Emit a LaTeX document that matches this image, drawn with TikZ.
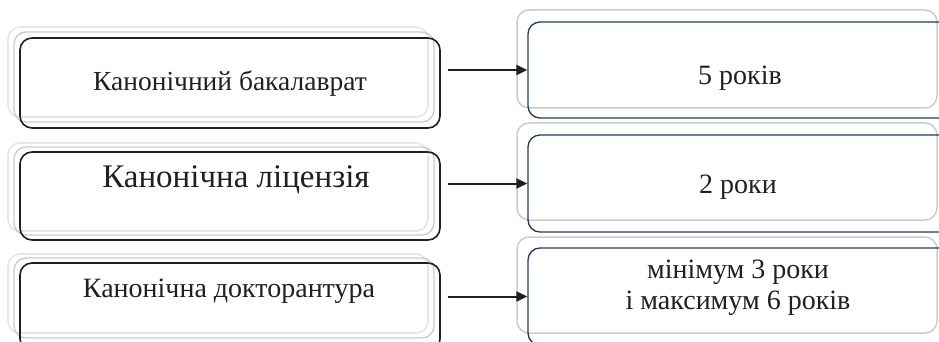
\documentclass[tikz,border=0pt]{standalone}
\usepackage{fontspec}
\setmainfont{Liberation Serif}
\usetikzlibrary{arrows.meta}
\definecolor{navy}{HTML}{1F3A62}
\definecolor{shadelight}{HTML}{E6E6E6}
\definecolor{shademid}{HTML}{CCCCCC}
\definecolor{ink}{HTML}{231F20}
\tikzset{
  lbox/.style={draw=ink, line width=1.6pt, rounded corners=12pt, minimum width=420pt, inner sep=0pt},
  rbox/.style={draw=navy, line width=1.3pt, rounded corners=12pt, minimum width=424pt, inner sep=0pt},
  shA/.style={draw=shadelight, line width=1.6pt, rounded corners=12pt},
  shB/.style={draw=shademid, line width=1.4pt, rounded corners=12pt},
  rsh/.style={draw=shademid, line width=1.5pt, rounded corners=12pt},
  txt/.style={text=ink, inner sep=0pt},
  arr/.style={draw=ink, line width=2pt, -{Triangle[length=11pt,width=10pt]}, shorten <=7pt}
}
\begin{document}
\begin{tikzpicture}[x=1pt,y=-1pt]
\useasboundingbox (0,0) rectangle (939,342);
\clip (0,0) rectangle (939,342);
% left shadows
\draw[shA] (8,27) rectangle (428,117);
\draw[shB] (14,32) rectangle (434,122);
\draw[shA] (8,143) rectangle (428,231);
\draw[shB] (14,147) rectangle (434,235);
\draw[shA] (8,254) rectangle (428,333);
\draw[shB] (14,258) rectangle (434,338);
% left boxes
\node[lbox, minimum height=90pt] (L1) at (230,83) {};
\node[lbox, minimum height=88pt] (L2) at (230,196) {};
\node[lbox, minimum height=88pt] (L3) at (230,307) {};
% right shadows
\draw[rsh] (517,10) rectangle (937,108);
\draw[rsh] (517,123) rectangle (937,220);
\draw[rsh] (517,237) rectangle (937,333);
% right boxes
\node[rbox, minimum height=96pt] (R1) at (740,70) {};
\node[rbox, minimum height=97pt] (R2) at (740,183.5) {};
\node[rbox, minimum height=97pt] (R3) at (740,296.5) {};
% texts
\node[txt, anchor=base, font=\fontsize{27.5}{32}\selectfont] (t1) at (230,91) {Канонічний бакалаврат};
\node[txt, anchor=base, font=\fontsize{33}{38}\selectfont] (t2) at (236,187) {Канонічна ліцензія};
\node[txt, anchor=base, font=\fontsize{28}{33}\selectfont] (t3) at (229,297) {Канонічна докторантура};
\node[txt, anchor=base, font=\fontsize{28}{33}\selectfont] (u1) at (740,85) {5 років};
\node[txt, anchor=base, font=\fontsize{28}{33}\selectfont] (u2) at (738,193) {2 роки};
\node[txt, anchor=center, align=center, font=\fontsize{28}{31}\selectfont] (u3) at (738,288) {мінімум 3 роки\\і максимум 6 років};
% arrows
\draw[arr] (L1.east |- R1.west) -- (R1.west);
\draw[arr] (L2.east |- R2.west) -- (R2.west);
\draw[arr] (L3.east |- R3.west) -- (R3.west);
\end{tikzpicture}
\end{document}
